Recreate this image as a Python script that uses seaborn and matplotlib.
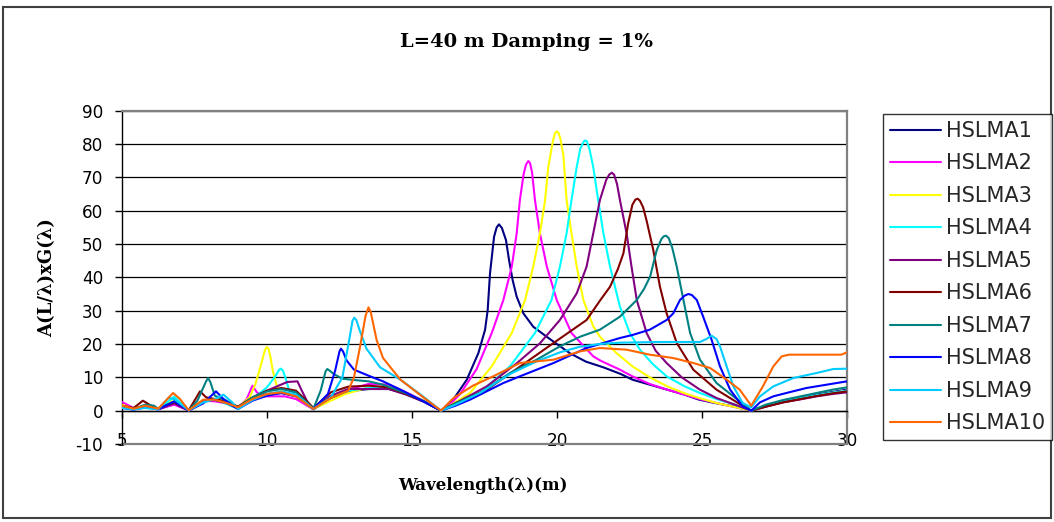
import numpy as np
import pandas as pd
import matplotlib
matplotlib.use("Agg")
import matplotlib.pyplot as plt
import seaborn as sns
from matplotlib.patches import Rectangle

# ---------------- data ----------------
series_names = ["HSLMA1", "HSLMA2", "HSLMA3", "HSLMA4", "HSLMA5",
                "HSLMA6", "HSLMA7", "HSLMA8", "HSLMA9", "HSLMA10"]
series_colors = ["#000080", "#FF00FF", "#FFFF00", "#00FFFF", "#800080",
                 "#800000", "#008080", "#0000FF", "#00CCFF", "#FF6600"]

x1 = [5.0, 5.4, 5.8, 6.25, 6.8, 7.3, 7.8, 8.2, 8.6, 9.0, 9.5, 10.0, 10.5, 11.0, 11.6, 12.2, 12.8, 13.5, 14.2, 14.8, 15.4, 16.0,
      16.42, 16.89, 17.29, 17.52, 17.61, 17.69, 17.83, 17.92, 18.0, 18.1, 18.24, 18.35, 18.47, 18.61, 18.84, 19.18, 19.64,
      20.45, 21.0, 21.6, 22.2, 22.6, 23.2, 23.8, 24.4, 24.9, 25.5, 26.07, 26.7, 27.2, 27.8, 28.4, 28.95, 29.5, 30.0]
y1 = [1.2, 0.5, 1.2, 0.4, 2.0, 0.1, 2.8, 3.0, 2.5, 1.2, 3.5, 5.0, 5.3, 4.3, 0.4, 3.8, 5.8, 6.5, 6.5, 5.0, 2.8, 0.0,
      3.3, 9.3, 17.3, 24.3, 30.2, 41.2, 52.2, 55.0, 55.9, 54.8, 51.2, 45.0, 39.2, 34.2, 29.2, 25.2, 22.2,
      17.2, 14.7, 13.0, 11.0, 9.3, 7.8, 6.3, 4.8, 3.3, 2.2, 1.3, 0.0, 1.5, 2.8, 3.8, 4.8, 5.6, 6.3]

x2 = [5.0, 5.4, 5.8, 6.25, 6.8, 7.3, 7.8, 8.2, 8.6, 9.0, 9.3, 9.5, 9.65, 9.9, 10.3, 10.6, 11.0, 11.6, 12.2, 12.8, 13.5, 14.2, 14.8, 15.4, 16.0,
      16.3, 16.66, 17.23, 17.75, 18.15, 18.44, 18.61, 18.72, 18.85, 18.93, 19.01, 19.07, 19.14, 19.24, 19.41, 19.65, 19.99, 20.5, 21.25, 21.5,
      22.17, 22.6, 23.2, 23.8, 24.4, 24.9, 25.5, 26.07, 26.7, 27.2, 27.8, 28.4, 28.95, 29.5, 30.0]
y2 = [2.6, 0.8, 1.2, 0.5, 1.8, 0.1, 3.0, 2.8, 2.2, 0.8, 3.5, 7.5, 5.5, 4.3, 4.3, 4.3, 3.5, 0.4, 4.0, 6.3, 8.0, 7.8, 5.5, 3.0, 0.0,
      1.8, 5.0, 12.5, 23.3, 33.2, 43.2, 53.2, 63.2, 71.0, 73.8, 74.9, 74.3, 71.5, 63.2, 53.2, 43.2, 33.2, 23.3, 16.3, 15.0,
      12.3, 10.3, 8.0, 6.3, 4.8, 3.5, 2.3, 1.2, 0.0, 1.3, 2.6, 3.5, 4.5, 5.3, 6.0]

x3 = [5.0, 5.4, 5.8, 6.25, 6.8, 7.3, 7.8, 8.2, 8.6, 9.0, 9.4, 9.6, 9.8, 9.93, 9.99, 10.05, 10.12, 10.2, 10.35, 10.6, 11.0, 11.6, 12.2, 12.7, 13.5, 14.2, 14.8, 15.4, 16.0,
      16.4, 17.0, 17.75, 18.44, 18.9, 19.18, 19.41, 19.59, 19.7, 19.85, 19.92, 19.99, 20.05, 20.12, 20.22, 20.33, 20.5, 20.68, 20.91, 21.25, 21.5,
      22.05, 22.6, 23.2, 23.8, 24.4, 24.9, 25.5, 26.07, 26.7, 27.2, 27.8, 28.4, 28.95, 29.5, 30.0]
y3 = [1.8, 0.6, 1.3, 0.5, 3.8, 0.1, 3.2, 3.2, 2.4, 1.0, 4.0, 8.0, 14.0, 18.2, 19.1, 18.6, 16.0, 12.0, 7.0, 5.5, 4.5, 0.5, 3.0, 5.0, 7.0, 7.2, 5.3, 3.0, 0.0,
      2.0, 5.3, 13.3, 23.3, 33.2, 43.2, 53.2, 63.2, 73.1, 80.5, 83.0, 83.8, 83.4, 81.5, 76.5, 63.2, 53.2, 43.2, 33.2, 25.3, 22.0,
      17.3, 13.3, 10.0, 7.3, 5.2, 3.8, 2.3, 1.2, 0.0, 1.3, 2.6, 3.6, 4.5, 5.3, 6.0]

x4 = [5.0, 5.4, 5.8, 6.25, 6.8, 7.3, 7.8, 8.2, 8.6, 9.0, 9.5, 10.0, 10.3, 10.42, 10.48, 10.55, 10.63, 10.75, 11.0, 11.6, 12.2, 12.8, 13.5, 14.2, 14.8, 15.4, 16.0,
      16.5, 17.34, 18.38, 19.24, 19.81, 20.1, 20.33, 20.5, 20.68, 20.8, 20.91, 20.97, 21.03, 21.12, 21.25, 21.42, 21.6, 21.83, 22.17, 22.5,
      22.86, 23.3, 23.78, 24.4, 24.93, 25.5, 26.07, 26.7, 27.2, 27.8, 28.4, 28.95, 29.5, 30.0]
y4 = [1.0, 0.5, 1.0, 0.5, 4.2, 0.1, 2.5, 3.5, 2.0, 0.6, 3.5, 7.0, 10.5, 12.3, 12.6, 12.0, 10.0, 6.5, 4.5, 0.4, 4.0, 6.0, 6.8, 6.8, 5.0, 2.8, 0.0,
      2.0, 5.3, 13.3, 23.3, 33.2, 43.2, 53.2, 63.2, 73.1, 78.5, 80.6, 81.1, 80.8, 78.5, 73.1, 63.2, 53.2, 43.2, 31.2, 23.5,
      18.3, 14.0, 10.3, 7.3, 5.3, 3.5, 2.0, 0.0, 1.4, 2.8, 3.8, 4.6, 5.4, 6.0]

x5 = [5.0, 5.4, 5.8, 6.25, 6.8, 7.3, 7.8, 8.2, 8.6, 9.0, 9.5, 10.0, 10.4, 10.7, 11.05, 11.2, 11.4, 11.6, 12.2, 12.8, 13.5, 14.2, 14.8, 15.4, 16.0,
      16.5, 17.58, 18.61, 19.41, 20.1, 20.68, 21.02, 21.25, 21.48, 21.7, 21.8, 21.89, 21.97, 22.07, 22.17, 22.4, 22.57, 22.75, 23.09, 23.4,
      23.78, 24.3, 24.93, 25.5, 26.07, 26.7, 27.2, 27.8, 28.4, 28.95, 29.5, 30.0]
y5 = [1.0, 0.6, 1.5, 0.5, 2.2, 0.1, 3.0, 3.2, 2.3, 0.8, 3.8, 6.0, 7.5, 8.6, 8.8, 6.0, 2.5, 0.6, 4.5, 6.5, 6.5, 6.5, 4.8, 2.7, 0.0,
      2.2, 7.3, 14.2, 20.2, 27.2, 35.2, 43.2, 53.2, 63.2, 69.3, 70.8, 71.4, 70.8, 68.0, 63.2, 53.2, 43.2, 33.2, 23.3, 18.0,
      14.3, 10.0, 6.3, 3.8, 2.0, 0.0, 1.2, 2.5, 3.4, 4.3, 5.0, 5.5]

x6 = [5.0, 5.4, 5.72, 6.0, 6.25, 6.8, 7.3, 7.69, 7.9, 8.2, 8.6, 9.0, 9.5, 10.0, 10.5, 11.0, 11.3, 11.6, 12.2, 12.8, 13.5, 14.2, 14.8, 15.4, 16.0,
      16.5, 17.58, 18.72, 19.88, 21.02, 21.48, 21.83, 22.1, 22.29, 22.45, 22.6, 22.7, 22.78, 22.86, 22.97, 23.09, 23.32, 23.55, 23.78, 24.13,
      24.7, 25.5, 26.3, 26.7, 27.2, 27.8, 28.4, 28.95, 29.5, 30.0]
y6 = [1.5, 0.8, 3.0, 1.5, 0.6, 2.5, 0.1, 5.8, 4.0, 3.5, 2.8, 1.2, 4.0, 6.0, 6.8, 6.0, 3.5, 0.8, 5.5, 7.2, 7.5, 7.0, 5.0, 2.8, 0.0,
      2.2, 6.3, 13.2, 20.3, 27.2, 33.0, 37.2, 42.5, 47.2, 56.0, 61.8, 63.3, 63.6, 63.0, 61.0, 57.0, 48.2, 37.2, 29.2, 20.3,
      12.3, 6.3, 2.0, 0.0, 1.2, 2.5, 3.5, 4.4, 5.2, 5.8]

x7 = [5.0, 5.4, 5.8, 6.1, 6.25, 6.8, 7.3, 7.6, 7.9, 7.97, 8.05, 8.2, 8.6, 9.0, 9.5, 10.0, 10.5, 11.0, 11.6, 11.85, 12.02, 12.08, 12.16, 12.3, 12.6, 13.0, 13.5, 14.0, 14.8, 15.4, 16.0,
      16.5, 17.34, 18.38, 19.3, 20.1, 20.8, 21.48, 22.17, 22.75, 23.0, 23.21, 23.44, 23.6, 23.68, 23.76, 23.85, 23.97, 24.13, 24.36, 24.59,
      24.93, 25.5, 26.3, 26.7, 27.2, 27.8, 28.4, 28.95, 29.5, 30.0]
y7 = [1.0, 0.5, 1.8, 1.5, 0.5, 2.8, 0.1, 3.0, 8.8, 9.8, 8.5, 4.5, 3.0, 1.0, 4.0, 5.8, 6.5, 5.5, 0.6, 6.0, 11.8, 12.5, 12.0, 11.0, 9.6, 9.2, 8.8, 7.8, 5.2, 2.9, 0.0,
      2.2, 5.3, 11.3, 15.3, 19.3, 22.2, 24.3, 28.2, 33.2, 36.5, 40.2, 48.2, 51.5, 52.3, 52.5, 51.8, 49.0, 43.2, 33.2, 23.3,
      15.3, 8.3, 2.8, 0.0, 1.8, 3.2, 4.3, 5.3, 6.3, 7.0]

x8 = [5.0, 5.4, 5.8, 6.25, 6.8, 7.3, 7.8, 8.24, 8.5, 8.8, 9.0, 9.5, 10.0, 10.5, 11.0, 11.6, 12.1, 12.35, 12.5, 12.55, 12.62, 12.75, 13.0, 13.5, 14.0, 14.6, 15.3, 16.0,
      16.5, 17.0, 18.15, 18.72, 19.88, 21.02, 22.17, 22.6, 23.2, 23.78, 24.01, 24.24, 24.4, 24.53, 24.65, 24.82, 25.04, 25.33, 25.62,
      25.97, 26.4, 26.7, 27.0, 27.46, 28.0, 28.6, 29.3, 30.0]
y8 = [0.8, 0.3, 1.0, 0.4, 2.8, 0.0, 2.2, 5.8, 3.5, 1.5, 0.5, 3.0, 4.5, 5.3, 4.5, 0.5, 5.0, 12.0, 17.8, 18.6, 17.8, 15.0, 12.3, 10.5, 8.8, 6.3, 3.2, 0.0,
      1.5, 3.3, 8.3, 10.3, 14.3, 18.8, 21.8, 22.7, 24.3, 27.2, 29.2, 33.2, 34.5, 35.0, 34.7, 33.2, 28.2, 21.3, 13.3,
      6.3, 1.3, 0.0, 2.5, 4.3, 5.5, 6.8, 7.8, 8.8]

x9 = [5.0, 5.4, 5.8, 6.25, 6.6, 6.8, 7.3, 7.8, 8.2, 8.5, 8.8, 9.0, 9.5, 10.0, 10.5, 11.0, 11.6, 12.2, 12.6, 12.85, 12.95, 13.01, 13.08, 13.18, 13.43, 13.9, 14.6, 15.3, 16.0,
      16.5, 17.34, 18.38, 19.3, 20.1, 20.8, 21.48, 22.17, 23.5, 24.93, 25.15, 25.33, 25.5, 25.62, 25.85, 26.08, 26.4, 26.7,
      27.0, 27.46, 28.15, 28.95, 29.53, 30.0]
y9 = [0.8, 0.4, 0.8, 0.4, 3.8, 3.5, 0.1, 2.5, 3.5, 4.8, 2.5, 0.5, 3.2, 5.0, 5.8, 4.8, 0.5, 4.0, 10.0, 22.0, 27.0, 27.9, 27.2, 24.5, 18.6, 13.0, 9.3, 4.8, 0.0,
      1.8, 5.3, 11.0, 14.8, 17.5, 19.2, 20.0, 20.4, 20.6, 20.6, 21.5, 22.5, 21.5, 19.3, 13.3, 7.3, 2.3, 1.0,
      4.3, 7.3, 9.8, 11.3, 12.5, 12.6]

x10 = [5.0, 5.4, 5.8, 6.25, 6.76, 7.0, 7.3, 7.8, 8.2, 8.6, 9.0, 9.5, 10.0, 10.5, 11.0, 11.6, 12.2, 12.8, 13.0, 13.2, 13.4, 13.5, 13.58, 13.78, 14.0, 14.6, 15.3, 16.0,
       16.43, 17.1, 17.8, 18.72, 19.88, 20.8, 21.48, 22.4, 23.2, 24.0, 24.7, 25.28, 25.85, 26.3, 26.7,
       27.1, 27.46, 27.75, 28.0, 29.8, 30.0]
y10 = [1.5, 0.6, 1.5, 0.6, 5.3, 3.5, 0.1, 3.3, 3.3, 2.3, 1.0, 3.5, 5.0, 5.5, 4.3, 0.5, 3.8, 6.0, 10.0, 18.8, 28.5, 31.0, 29.5, 21.2, 15.8, 9.3, 4.6, 0.0,
       3.8, 7.5, 10.3, 14.3, 15.3, 17.8, 18.8, 18.3, 16.8, 15.8, 14.3, 12.8, 9.3, 6.3, 1.5,
       7.3, 13.3, 16.3, 16.8, 16.8, 17.5]

x_ticks = [5, 10, 15, 20, 25, 30]
y_ticks = [-10, 0, 10, 20, 30, 40, 50, 60, 70, 80, 90]

title_text = "L=40 m Damping = 1%"
x_label = "Wavelength(\u03bb)(m)"
y_label = "A(L/\u03bb)xG(\u03bb)"

# ---------------- build long table ----------------
xs = [x1, x2, x3, x4, x5, x6, x7, x8, x9, x10]
ys = [y1, y2, y3, y4, y5, y6, y7, y8, y9, y10]
frames = []
for name, xv, yv in zip(series_names, xs, ys):
    frames.append(pd.DataFrame({"wl": xv, "val": yv, "series": name}))
df = pd.concat(frames, ignore_index=True)

# ---------------- style ----------------
sns.set_theme(style="white")
plt.rcParams["font.family"] = ["DejaVu Sans"]
plt.rcParams["axes.unicode_minus"] = False

W, H = 1054, 522
fig = plt.figure(figsize=(W / 100, H / 100), dpi=100)
fig.patch.set_facecolor("white")

left_px, right_px, top_px, bot_px = 122, 847, 110.7, 444
ax = fig.add_axes([left_px / W, 1 - bot_px / H, (right_px - left_px) / W, (bot_px - top_px) / H])
ax.set_facecolor("white")

sns.lineplot(data=df, x="wl", y="val", hue="series", hue_order=series_names,
             palette=dict(zip(series_names, series_colors)), estimator=None,
             sort=False, linewidth=1.5, ax=ax, legend=True, zorder=3)
for ln in ax.get_lines():
    ln.set_solid_joinstyle("round")

ax.set_xlim(5, 30)
ax.set_ylim(-10, 90)
ax.set_xticks(x_ticks)
ax.set_yticks(y_ticks)
ax.set_xlabel("")
ax.set_ylabel("")

ax.yaxis.grid(True, color="black", linewidth=0.9, zorder=1)
ax.xaxis.grid(False)
ax.set_axisbelow(True)

# spines
ax.spines["left"].set_color("black")
ax.spines["left"].set_linewidth(1.0)
ax.spines["bottom"].set_position(("data", 0))
ax.spines["bottom"].set_color("black")
ax.spines["bottom"].set_linewidth(1.0)
for s in ["top", "right"]:
    ax.spines[s].set_color("#808080")
    ax.spines[s].set_linewidth(1.6)
    ax.spines[s].set_zorder(2.5)
ax.axhline(-10, color="#808080", linewidth=1.6, zorder=2.5, clip_on=False)

ax.tick_params(axis="x", direction="out", length=5, width=1, color="black",
               pad=10, labelsize=12.2, labelcolor="black", bottom=True)
ax.tick_params(axis="y", direction="out", length=5, width=1, color="black",
               pad=8.5, labelsize=12.2, labelcolor="black", left=True)

# legend
handles, labels = ax.get_legend_handles_labels()
ax.get_legend().remove()
leg = fig.legend(handles, labels, loc="upper left",
                 bbox_to_anchor=(883 / W, 1 - 114 / H), bbox_transform=fig.transFigure,
                 frameon=True, fancybox=False, shadow=False, borderaxespad=0,
                 fontsize=15, labelspacing=0.6, borderpad=0.33,
                 handlelength=2.45, handletextpad=0.25)
leg.get_frame().set_edgecolor("black")
leg.get_frame().set_linewidth(1.0)
for lh in leg.get_lines():
    lh.set_linewidth(1.5)

# titles
serif_bold = dict(family=["DejaVu Serif"], weight="bold", color="black")
fig.text(526 / W, 1 - 42 / H, title_text, ha="center", va="center", fontsize=14, **serif_bold)
fig.text(483 / W, 1 - 485 / H, x_label, ha="center", va="center", fontsize=12, **serif_bold)
fig.text(47 / W, 1 - 278 / H, y_label, ha="center", va="center", rotation=90, fontsize=13, **serif_bold)

# outer border
fig.patches.append(Rectangle((3 / W, 4 / H), 1048 / W, 511 / H, transform=fig.transFigure,
                             fill=False, edgecolor="#404040", linewidth=1.5))

fig.savefig("out.png", dpi=100)
